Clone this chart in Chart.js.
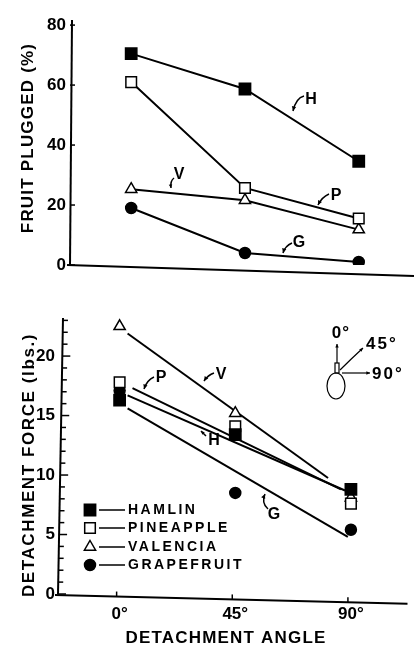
<!DOCTYPE html>
<html>
<head>
<meta charset="utf-8">
<script src="https://cdn.jsdelivr.net/npm/chart.js@4"></script>
<style>
  html, body { margin: 0; padding: 0; background: #fff; }
  #wrap { position: relative; width: 414px; height: 647px; overflow: hidden; background: #fff; }
  canvas { position: absolute; left: 0; }
  #top { top: 0; }
  #bottom { top: 300px; }
</style>
</head>
<body>
<div id="wrap">
  <canvas id="top" width="414" height="295"></canvas>
  <canvas id="bottom" width="414" height="347"></canvas>
</div>
<script>
// detachment angles (degrees) and their labels
const angles = [0, 45, 90];
const angleLabels = ['0°', '45°', '90°'];
const cultivars = ['HAMLIN', 'PINEAPPLE', 'VALENCIA', 'GRAPEFRUIT'];

// tick values of the two y axes
const pluggedTicks = [0, 20, 40, 60, 80];
const forceTicks = [0, 5, 10, 15, 20];

// upper panel: fruit plugged (%)
const pluggedHamlin = [70.5, 58.7, 34.6];
const pluggedPineapple = [61, 25.7, 15.5];
const pluggedValencia = [25.3, 21.6, 11.8];
const pluggedGrapefruit = [19, 4, 1];

// lower panel: detachment force (lbs.)
const forceHamlin = [16.3, 13.4, 8.8];
const forcePineapple = [17.8, 14.1, 7.6];
const forceValencia = [22.5, 15.2, 8.1];
const forceGrapefruit = [17.1, 8.5, 5.4];

// lower panel: fitted lines, start and end (angle, force)
const fitHamlinAngle = [3.1, 87.7];
const fitHamlinForce = [16.7, 8.7];
const fitPineappleAngle = [5.0, 86.1];
const fitPineappleForce = [17.3, 8.8];
const fitValenciaAngle = [3.1, 81.1];
const fitValenciaForce = [21.9, 9.75];
const fitGrapefruitAngle = [3.1, 88.8];
const fitGrapefruitForce = [15.6, 4.8];

const FONT = 'Liberation Sans';
const tickFont = { family: FONT, weight: 'bold', size: 17 };

// marker look per cultivar
const marks = [
  { style: 'rect', fill: '#000', r: 8 },
  { style: 'rect', fill: '#fff', r: 7.5 },
  { style: 'triangle', fill: '#fff', r: 6.5 },
  { style: 'circle', fill: '#000', r: 5.5 }
];

function pts(xs, ys) {
  return xs.map((x, i) => ({ x: x, y: ys[i] }));
}

function drawMark(ctx, m, x, y) {
  ctx.save();
  ctx.fillStyle = m.fill;
  ctx.strokeStyle = '#000';
  ctx.lineWidth = 1.5;
  ctx.beginPath();
  if (m.style === 'rect') {
    const s = m.r * Math.SQRT1_2;
    ctx.rect(x - s, y - s, 2 * s, 2 * s);
  } else if (m.style === 'triangle') {
    ctx.moveTo(x, y - m.r);
    ctx.lineTo(x + m.r * 0.866, y + m.r * 0.5);
    ctx.lineTo(x - m.r * 0.866, y + m.r * 0.5);
    ctx.closePath();
  } else {
    ctx.arc(x, y, m.r, 0, Math.PI * 2);
  }
  ctx.fill();
  ctx.stroke();
  ctx.restore();
}

function arrow(ctx, x0, y0, cx, cy, x1, y1, head) {
  head = head || 5;
  ctx.beginPath();
  ctx.moveTo(x0, y0);
  ctx.quadraticCurveTo(cx, cy, x1, y1);
  ctx.stroke();
  const a = Math.atan2(y1 - cy, x1 - cx);
  ctx.beginPath();
  ctx.moveTo(x1, y1);
  ctx.lineTo(x1 - head * Math.cos(a - 0.45), y1 - head * Math.sin(a - 0.45));
  ctx.lineTo(x1 - head * Math.cos(a + 0.45), y1 - head * Math.sin(a + 0.45));
  ctx.closePath();
  ctx.fill();
}

function text(ctx, s, x, y, size, spacing, align, rot) {
  ctx.save();
  ctx.font = 'bold ' + size + 'px "' + FONT + '"';
  ctx.letterSpacing = (spacing || 0) + 'px';
  ctx.textAlign = align || 'center';
  ctx.textBaseline = 'middle';
  ctx.translate(x, y);
  if (rot) ctx.rotate(rot);
  ctx.fillText(s, 0, 0);
  ctx.restore();
}

// ---------- upper panel ----------
const pluggedSeries = [pluggedHamlin, pluggedPineapple, pluggedValencia, pluggedGrapefruit];
const topSets = pluggedSeries.map((vals, i) => ({
  label: cultivars[i],
  data: pts(angles, vals),
  showLine: true,
  borderColor: '#000',
  borderWidth: 2,
  pointStyle: marks[i].style,
  pointRadius: marks[i].r,
  pointBackgroundColor: marks[i].fill,
  pointBorderColor: '#000',
  pointBorderWidth: 1.5
}));

const topDecor = {
  id: 'topDecor',
  beforeDatasetsDraw(chart) {
    const ctx = chart.ctx, a = chart.chartArea, ys = chart.scales.y;
    ctx.save();
    ctx.strokeStyle = '#000';
    ctx.lineWidth = 2;
    ctx.beginPath();
    ctx.moveTo(a.left + 2, a.top);
    ctx.lineTo(a.left, a.bottom);
    ctx.stroke();
    ctx.beginPath();
    ctx.moveTo(a.left - 3, a.bottom);
    ctx.lineTo(chart.width, a.bottom + 11);
    ctx.stroke();
    ctx.lineWidth = 1.5;
    pluggedTicks.forEach(v => {
      const py = ys.getPixelForValue(v);
      ctx.beginPath();
      ctx.moveTo(a.left, py);
      ctx.lineTo(a.left + 5, py);
      ctx.stroke();
    });
    ctx.restore();
  },
  afterDraw(chart) {
    const ctx = chart.ctx;
    ctx.save();
    ctx.fillStyle = '#000';
    ctx.strokeStyle = '#000';
    ctx.lineWidth = 1.5;
    text(ctx, 'FRUIT PLUGGED (%)', 28, 138, 17, 1.2, 'center', -Math.PI / 2);
    text(ctx, 'H', 311, 100, 16, 0);
    arrow(ctx, 304, 96, 296, 98, 293, 111);
    text(ctx, 'V', 179, 175, 16, 0);
    arrow(ctx, 174, 178, 170, 181, 171, 188, 4);
    text(ctx, 'P', 336, 196, 16, 0);
    arrow(ctx, 329, 194, 322, 197, 318, 205);
    text(ctx, 'G', 299, 243, 16, 0);
    arrow(ctx, 292, 243, 285, 246, 283, 253);
    ctx.restore();
  }
};

new Chart(document.getElementById('top'), {
  type: 'scatter',
  data: { datasets: topSets },
  options: {
    responsive: false,
    animation: false,
    layout: { padding: { top: 20, right: 0, bottom: 0, left: 0 } },
    plugins: { legend: { display: false }, tooltip: { enabled: false } },
    scales: {
      x: {
        type: 'linear',
        min: -24.2,
        max: 108.1,
        grid: { display: false, drawTicks: false },
        border: { display: false },
        ticks: { display: false },
        afterFit: s => { s.height = 30; }
      },
      y: {
        min: 0,
        max: 81.7,
        grid: { display: false, drawTicks: false },
        border: { display: false },
        afterBuildTicks: s => { s.ticks = pluggedTicks.map(v => ({ value: v })); },
        ticks: {
          font: tickFont,
          color: '#000',
          padding: 4,
          autoSkip: false
        },
        afterFit: s => { s.width = 70; }
      }
    }
  },
  plugins: [topDecor]
});

// ---------- lower panel ----------
const forceSeries = [forceHamlin, forcePineapple, forceValencia, forceGrapefruit];
const fitAngles = [fitHamlinAngle, fitPineappleAngle, fitValenciaAngle, fitGrapefruitAngle];
const fitForces = [fitHamlinForce, fitPineappleForce, fitValenciaForce, fitGrapefruitForce];

const bottomSets = [];
forceSeries.forEach((vals, i) => {
  bottomSets.push({
    label: cultivars[i],
    data: pts(angles, vals),
    showLine: false,
    order: 0,
    pointStyle: marks[i].style,
    pointRadius: marks[i].r,
    pointBackgroundColor: marks[i].fill,
    pointBorderColor: '#000',
    pointBorderWidth: 1.5
  });
});
fitAngles.forEach((xs, i) => {
  bottomSets.push({
    label: cultivars[i] + ' fit',
    data: pts(xs, fitForces[i]),
    showLine: true,
    order: 1,
    borderColor: '#000',
    borderWidth: 2,
    pointRadius: 0
  });
});

const bottomDecor = {
  id: 'bottomDecor',
  beforeDatasetsDraw(chart) {
    const ctx = chart.ctx, a = chart.chartArea, xs = chart.scales.x, ys = chart.scales.y;
    const slope = 9 / 360;
    ctx.save();
    ctx.strokeStyle = '#000';
    ctx.lineWidth = 2;
    ctx.beginPath();
    ctx.moveTo(a.left + 3, a.top);
    ctx.lineTo(a.left - 2, a.bottom);
    ctx.stroke();
    ctx.beginPath();
    ctx.moveTo(a.left - 5, a.bottom + 1);
    ctx.lineTo(a.right + 3, a.bottom + 1 + slope * (a.right - a.left + 8));
    ctx.stroke();
    ctx.lineWidth = 1.5;
    for (let v = 0; v <= 23; v++) {
      const py = ys.getPixelForValue(v);
      const px = a.left - 2 + 5 * (a.bottom - py) / (a.bottom - a.top);
      ctx.beginPath();
      ctx.moveTo(px, py);
      ctx.lineTo(px + (v % 5 === 0 ? 8 : 5), py);
      ctx.stroke();
    }
    angles.forEach(v => {
      const px = xs.getPixelForValue(v) - 3;
      const py = a.bottom + 1 + slope * (px - a.left + 5);
      ctx.beginPath();
      ctx.moveTo(px, py);
      ctx.lineTo(px, py - 5);
      ctx.stroke();
    });
    ctx.restore();
  },
  afterDraw(chart) {
    const ctx = chart.ctx;
    ctx.save();
    ctx.fillStyle = '#000';
    ctx.strokeStyle = '#000';
    ctx.lineWidth = 1.5;
    text(ctx, 'DETACHMENT FORCE (lbs.)', 29, 165, 17, 1.6, 'center', -Math.PI / 2);
    text(ctx, 'DETACHMENT ANGLE', 226, 338, 17, 1.2, 'center');

    // curve labels
    text(ctx, 'V', 221, 75, 16, 0);
    arrow(ctx, 214, 73, 208, 75, 204, 81);
    text(ctx, 'P', 161, 78, 16, 0);
    arrow(ctx, 154, 77, 147, 80, 144, 89);
    text(ctx, 'H', 214, 141, 16, 0);
    arrow(ctx, 206, 136, 204, 134, 201, 131, 4);
    text(ctx, 'G', 274, 215, 16, 0);
    arrow(ctx, 268, 209, 261, 203, 265, 194);

    // legend
    const rows = [210, 228, 247, 265];
    cultivars.forEach((name, i) => {
      const y = rows[i];
      drawMark(ctx, marks[i], 90, y);
      ctx.beginPath();
      ctx.moveTo(99, y);
      ctx.lineTo(125, y);
      ctx.stroke();
      text(ctx, name, 128, y, 14, 2.5, 'left');
    });

    // angle inset
    ctx.lineWidth = 1.2;
    ctx.beginPath();
    ctx.ellipse(336, 86, 9, 13, 0, 0, Math.PI * 2);
    ctx.stroke();
    ctx.strokeRect(335, 63, 4, 10);
    arrow(ctx, 337, 63, 337, 55, 337, 44, 4);
    arrow(ctx, 340, 70, 351, 59, 363, 48, 4);
    arrow(ctx, 342, 73, 356, 73, 370, 73, 4);
    text(ctx, '0°', 341, 33, 17, 1);
    text(ctx, '45°', 366, 44, 17, 2, 'left');
    text(ctx, '90°', 372, 74, 17, 2, 'left');
    ctx.restore();
  }
};

new Chart(document.getElementById('bottom'), {
  type: 'scatter',
  data: { datasets: bottomSets },
  options: {
    responsive: false,
    animation: false,
    layout: { padding: { top: 18, right: 7, bottom: 0, left: 0 } },
    plugins: { legend: { display: false }, tooltip: { enabled: false } },
    scales: {
      x: {
        type: 'linear',
        min: -23.2,
        max: 110.85,
        grid: { display: false, drawTicks: false },
        border: { display: false },
        afterBuildTicks: s => { s.ticks = angles.map(v => ({ value: v })); },
        ticks: {
          font: tickFont,
          color: '#000',
          padding: 10,
          maxRotation: 0,
          autoSkip: false,
          callback: v => angleLabels[angles.indexOf(v)] || ''
        },
        afterFit: s => { s.height = 53; }
      },
      y: {
        min: 0,
        max: 23.2,
        grid: { display: false, drawTicks: false },
        border: { display: false },
        afterBuildTicks: s => { s.ticks = forceTicks.map(v => ({ value: v })); },
        ticks: {
          font: tickFont,
          color: '#000',
          padding: 5,
          autoSkip: false
        },
        afterFit: s => { s.width = 60; }
      }
    }
  },
  plugins: [bottomDecor]
});
</script>
</body>
</html>
